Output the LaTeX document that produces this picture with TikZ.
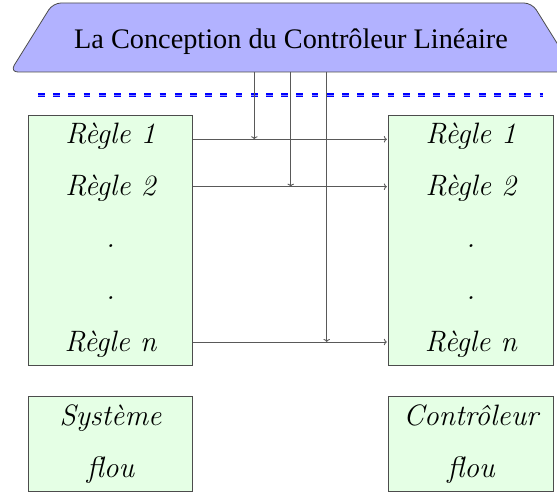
\documentclass[tikz,border=0pt]{standalone}
\usepackage{fontspec}
\usetikzlibrary{arrows.meta}
\newfontfamily\titlefont{Liberation Serif}
\begin{document}
\begin{tikzpicture}[x=1pt,y=-1pt,
  box/.style={draw=black!70,fill=green!10,line width=0.8pt,minimum width=164.3pt,inner sep=0pt},
  rule/.style={anchor=base,font=\fontsize{29.5}{32}\selectfont\itshape},
  conn/.style={draw=black!65,line width=0.9pt,-{To[length=3pt,width=6.5pt]}},
]
\clip (0,0) rectangle (557,495);
% title trapezoid
\draw[draw=black!70,fill=blue!30,line width=0.8pt,rounded corners=8pt]
  (10,72) -- (53,3) -- (532,3) -- (575,72) -- cycle;
\node[anchor=base,font=\titlefont\fontsize{28.3}{32}\selectfont] (title) at (291,49) {La Conception du Contr\^oleur Lin\'eaire};
% dashed separator
\coordinate (sepA) at (38,95);
\coordinate (sepB) at (543,95);
\draw[blue,line width=1.1pt,double=blue!45,double distance=0.9pt,dash pattern=on 6.8pt off 8.4pt] (sepA) -- (sepB);
% boxes
\node[box,minimum height=250.7pt] (L) at (110.5,240.35) {};
\node[box,minimum height=250.7pt] (R) at (470.9,240.35) {};
\node[box,minimum height=95.7pt] (LB) at (110.5,443.85) {};
\node[box,minimum height=95.7pt] (RB) at (470.9,443.85) {};
% texts
\node[rule] (l1) at (110.5,143) {Règle 1};
\node[rule] (l2) at (110.5,195) {Règle 2};
\node[rule] (l3) at (110.5,247) {.};
\node[rule] (l4) at (110.5,299) {.};
\node[rule] (l5) at (110.5,351) {Règle n};
\node[rule] (r1) at (470.9,143) {Règle 1};
\node[rule] (r2) at (470.9,195) {Règle 2};
\node[rule] (r3) at (470.9,247) {.};
\node[rule] (r4) at (470.9,299) {.};
\node[rule] (r5) at (470.9,351) {Règle n};
\node[rule] (s1) at (110.5,425) {Système};
\node[rule] (s2) at (110.5,477) {flou};
\node[rule] (c1) at (470.9,425) {Contrôleur};
\node[rule] (c2) at (470.9,477) {flou};
% connector rows
\coordinate (y1) at (0,139.3);
\coordinate (y2) at (0,186.7);
\coordinate (y3) at (0,342);
\draw[conn,shorten >=1.5pt] (L.east |- y1) -- (R.west |- y1);
\draw[conn,shorten >=1.5pt] (L.east |- y2) -- (R.west |- y2);
\draw[conn,shorten >=1.5pt] (L.east |- y3) -- (R.west |- y3);
% vertical arrows from title
\coordinate (t1) at (254.3,72);
\coordinate (t2) at (290.7,72);
\coordinate (t3) at (326.7,72);
\draw[conn] (t1) -- (t1 |- y1);
\draw[conn] (t2) -- (t2 |- y2);
\draw[conn] (t3) -- (t3 |- y3);
\end{tikzpicture}
\end{document}
